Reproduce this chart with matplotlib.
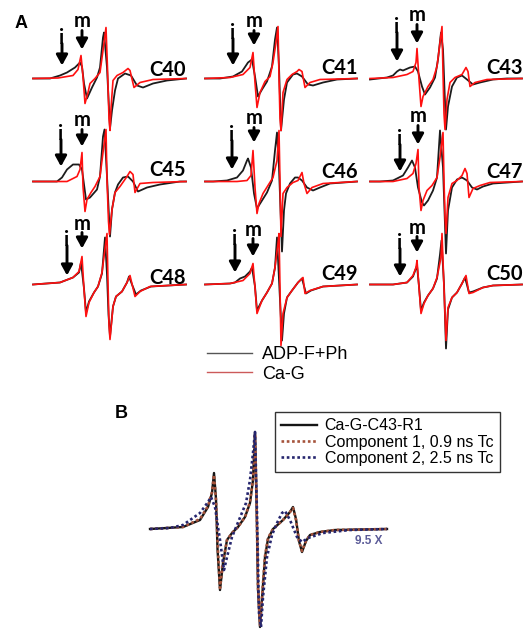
import matplotlib
matplotlib.use('Agg')
import matplotlib.pyplot as plt
from matplotlib.lines import Line2D

plt.rcParams['font.family'] = ['Liberation Sans', 'DejaVu Sans']

# ---------------- data (field offset, derivative amplitude; arbitrary units) ----------
labels = ["C40", "C41", "C43", "C45", "C46", "C47", "C48", "C49", "C50"]

c40_adp_x = [0, 17, 27, 34, 42, 47, 49, 51, 54, 59, 64, 67, 70, 71, 74, 77, 79, 82, 85, 92, 98, 104, 110, 120, 134, 153]
c40_adp_y = [0, 0, 3, 6, 11, 16, 12, -5, -20, -9, 1, 11, 41, 46, 11, -50, -32, -12, 0, 5, 3, -7, -9, -5, -2, 0]
c40_cag_x = [0, 25, 40, 45, 48, 50, 52, 55, 57, 62, 67, 70, 73, 74.5, 76, 77, 78, 80, 84, 90, 95, 97, 101, 107, 120, 153]
c40_cag_y = [0, 0.5, 3, 9, 23, 2, -25, -14, -5, 0, 6, 28, 51, 10, -40, -52, -30, -2, 3, 6, 10, 8, -9, -4, -1, 0]

c41_adp_x = [0, 15, 28, 37, 43, 47, 50, 53, 57, 62, 67, 70, 72, 74, 76, 79, 82, 88, 92, 97, 103, 108, 118, 132, 152]
c41_adp_y = [0, 0, 2, 7, 16, 19, 2, -18, -11, -3, 12, 39, 51, 12, -52, -21, -4, 4, 5, 2, -6, -7, -4, -1, 0]
c41_cag_x = [0, 25, 38, 45, 48, 50, 52, 55, 60, 65, 68, 71, 73, 74, 75, 76, 78, 82, 87, 92, 94, 97, 100, 105, 115, 152]
c41_cag_y = [0, 1, 4, 11, 26, -4, -29, -14, -3, 2, 16, 36, 52, 2, -40, -52, -14, -1, 4, 7, 9, 7, -9, -4, -1, 0]

c43_adp_x = [0, 17, 23, 27, 30, 33, 40, 45, 48, 52, 55, 60, 65, 68, 71, 73, 76, 78, 82, 87, 92, 97, 103, 110, 123, 137, 152]
c43_adp_y = [-1, 1, 3, 7, 9, 8, 11, 12, 7, -8, -16, -9, 1, 19, 46, 29, -51, -28, -8, 1, 3, -1, -6, -4, -1, 0, 0]
c43_cag_x = [0, 23, 37, 43, 46, 47, 49, 51, 53, 58, 63, 67, 70, 72, 73, 74, 75, 77, 80, 85, 92, 96, 98, 100, 105, 117, 152]
c43_cag_y = [0, 1, 4, 7, 16, 30, -1, -28, -18, -8, -1, 12, 36, 52, 6, -35, -51, -21, -4, 1, 4, 11, 7, -8, -4, -1, 0]

c45_adp_x = [0, 24, 29, 34, 40, 46, 49, 53, 57, 64, 67, 70, 71.5, 74, 77, 79, 82, 85, 90, 95, 100, 105, 114, 127, 147, 153]
c45_adp_y = [0, 0, 4, 12, 17, 17, 12, -18, -16, -8, 5, 45, 52, 5, -55, -28, -11, -3, 4, 5, 0, -10, -6, -3, 0, 0]
c45_cag_x = [0, 34, 44, 47, 49, 50, 52, 54, 58, 62, 67, 70, 73, 74, 75.5, 76.5, 79, 82, 87, 94, 97, 100, 102, 107, 120, 153]
c45_cag_y = [0, 0, 5, 12, 29, -5, -30, -18, -11, -5, 5, 29, 52, 2, -40, -53, -28, -11, -5, 5, 10, 7, -11, -2, -1, 0]

c46_adp_x = [0, 8, 22, 32, 38, 42, 43, 46, 49, 52, 57, 62, 67, 70, 72, 74, 77, 79, 81, 85, 90, 93, 97, 102, 108, 115, 125, 152]
c46_adp_y = [0, 0, 1, 4, 11, 21, 23, 14, -12, -27, -19, -11, 1, 31, 49, 14, -70, -29, -12, -2, 4, 4, 1, -6, -9, -6, -2, 0]
c46_cag_x = [0, 32, 42, 46, 48, 50, 52, 54, 58, 63, 68, 72, 74, 75, 76, 78, 82, 88, 93, 97, 99, 102, 107, 118, 152]
c46_cag_y = [0, 0, 1, 6, 31, -6, -32, -22, -12, -4, 4, 21, 51, 0, -55, -12, -6, -1, 1, 9, -2, -12, -6, -2, 0]

c47_adp_x = [0, 10, 23, 33, 38, 42, 45, 48, 52, 54, 58, 63, 67, 70, 73, 76, 78, 82, 87, 92, 97, 102, 107, 113, 123, 152]
c47_adp_y = [0, 0, 1, 6, 14, 21, 14, -6, -21, -24, -19, -9, 4, 51, 14, -72, -29, -6, 2, 4, 1, -6, -8, -5, -2, 0]
c47_cag_x = [0, 23, 37, 43, 46, 48, 49, 51, 53, 57, 62, 67, 70, 73, 74, 75, 76, 78, 82, 87, 92, 95, 97, 99, 103, 110, 120, 152]
c47_cag_y = [0, 0, 3, 8, 18, 32, -6, -29, -19, -9, -4, 4, 24, 49, 1, -35, -52, -16, -2, 1, 6, 13, 8, -16, -7, -4, -1, 0]

c48_adp_x = [0, 27, 40, 46, 48, 51, 53, 56, 61, 65, 69, 72, 74, 75.5, 77, 80, 83, 89, 94, 96, 99, 103, 108, 118, 153]
c48_adp_y = [0, 2, 7, 12, 22, -4, -28, -17, -8, -2, 11, 47, 10, -30, -52, -22, -12, -7, 2, 8, 0, -10, -6, -2, 0]
c48_cag_x = [0, 27, 40, 46, 49, 51, 53, 56, 61, 65, 69, 71, 74, 75, 76, 77, 80, 83, 89, 94, 97, 102, 107, 117, 153]
c48_cag_y = [0, 2, 7, 13, 28, -5, -32, -18, -8, -2, 12, 28, 51, 2, -40, -55, -22, -12, -7, 2, 9, -12, -7, -2, 0]

c49_adp_x = [0, 25, 30, 35, 40, 45, 47, 50, 52, 57, 62, 67, 70, 72, 74, 77, 79, 82, 87, 93, 97, 101, 106, 118, 152]
c49_adp_y = [0, 1, 2, 6, 8, 13, 17, -2, -26, -16, -8, 1, 17, 47, 5, -56, -29, -13, -6, 2, 6, -9, -6, -2, 0]
c49_cag_x = [0, 25, 38, 45, 48, 50, 52, 57, 62, 67, 70, 73, 74, 75, 76, 78, 82, 87, 93, 98, 100, 105, 118, 152]
c49_cag_y = [0, 1, 4, 11, 21, -3, -29, -16, -8, 1, 17, 41, 51, -3, -61, -29, -13, -6, 2, 7, -9, -6, -2, 0]

c50_adp_x = [0, 23, 37, 43, 47, 49, 51, 54, 58, 63, 67, 70, 71.5, 74, 76, 78, 82, 87, 92, 95, 99, 103, 113, 123, 152]
c50_adp_y = [0, 0, 2, 8, 19, -2, -26, -18, -11, -4, 6, 30, 44, 0, -64, -25, -13, -8, 1, 7, -8, -7, -3, -1, 0]
c50_cag_x = [0, 23, 37, 43, 46, 47, 49, 51, 54, 58, 63, 67, 71, 72, 74, 76, 78, 82, 87, 92, 96, 99, 103, 113, 123, 152]
c50_cag_y = [0, 0, 2, 9, 17, 24, -3, -29, -19, -11, -4, 7, 27, 51, -3, -56, -23, -13, -8, 1, 9, -9, -8, -3, -1, 0]

# Panel B: Ca-G-C43-R1 and its two simulated components (scaled 9.5 X)
b_exp_x = [0, 33, 50, 58, 62, 64, 66, 67.5, 70, 73, 77, 82, 88, 95, 100, 103, 105, 106.5, 108, 110, 112, 115, 118, 123, 133, 140, 143, 146, 149, 152, 156, 160, 170, 185, 237]
b_exp_y = [0, 2, 9, 22, 36, 56, 30, -20, -61, -34, -11, -4, 2, 12, 26, 49, 97, 30, -60, -98, -70, -28, -10, 0, 9, 17, 22, 10, -12, -23, -12, -6, -3, -1, 0]
b_comp1_x = [0, 33, 50, 58, 62, 64, 66, 68, 70, 73, 77, 82, 88, 95, 100, 103, 105, 106.5, 108, 110, 112, 115, 118, 123, 133, 140, 143, 146, 149, 152, 156, 160, 170, 185, 237]
b_comp1_y = [0, 2, 10, 23, 37, 54, 28, -22, -59, -33, -11, -4, 2, 12, 27, 50, 95, 28, -58, -96, -68, -27, -9, 0, 9, 17, 21, 9, -12, -22, -12, -6, -3, -1, 0]
b_comp2_x = [0, 20, 33, 50, 58, 61, 65, 70, 74, 77, 82, 89, 96, 100, 103, 105, 107, 109, 111, 113, 117, 122, 127, 132, 135, 140, 147, 152, 158, 173, 200, 237]
b_comp2_y = [0, 1, 4, 16, 27, 32, 22, -11, -41, -28, -8, 9, 26, 49, 76, 97, 16, -84, -98, -68, -28, -6, 6, 16, 18, 9, -8, -13, -9, -4, -1, 0]

legend_a = ["ADP-F+Ph", "Ca-G"]
legend_b = ["Ca-G-C43-R1", "Component 1, 0.9 ns Tc", "Component 2, 2.5 ns Tc"]
scale_text = "9.5 X"

adp_traces = [(c40_adp_x, c40_adp_y), (c41_adp_x, c41_adp_y), (c43_adp_x, c43_adp_y),
              (c45_adp_x, c45_adp_y), (c46_adp_x, c46_adp_y), (c47_adp_x, c47_adp_y),
              (c48_adp_x, c48_adp_y), (c49_adp_x, c49_adp_y), (c50_adp_x, c50_adp_y)]
cag_traces = [(c40_cag_x, c40_cag_y), (c41_cag_x, c41_cag_y), (c43_cag_x, c43_cag_y),
              (c45_cag_x, c45_cag_y), (c46_cag_x, c46_cag_y), (c47_cag_x, c47_cag_y),
              (c48_cag_x, c48_cag_y), (c49_cag_x, c49_cag_y), (c50_cag_x, c50_cag_y)]

# ---------------- layout ----------------
W, H = 528, 629
fig = plt.figure(figsize=(W / 100, H / 100), dpi=100)

col_left = [33, 205, 370]
row_base = [78.5, 181.5, 284.5]
# (i x, i label centre, i tip, m x, m label centre, m tip, label height)
arrows = [
    (29, 41, 12, 49, 56, 28, 8),
    (28, 46, 12, 49, 56, 32, 10),
    (27, 52, 16, 47, 62, 34, 10),
    (28, 48, 14, 49, 60, 34, 11),
    (27, 47, 11, 49, 62, 38, 10),
    (30, 43, 9, 48, 64, 36, 10),
    (34, 45, 8, 49, 60, 35, 6),
    (30, 46, 11, 48, 54, 27, 11),
    (30, 42, 7, 47, 56, 31, 10),
]

BLACK = '#1c1c1c'
RED = '#ff1010'
lab_font = dict(family=['Lato', 'DejaVu Sans'], fontweight='bold', fontsize=14.5, color='black')
arrow_style = dict(arrowstyle='-|>,head_length=0.62,head_width=0.34', lw=2.1, color='black',
                   shrinkA=0, shrinkB=0, mutation_scale=10)

for k, name in enumerate(labels):
    r, c = divmod(k, 3)
    L, B = col_left[c], row_base[r]
    w, below, above = 153, 80, 80
    ax = fig.add_axes([L / W, 1 - (B + below) / H, w / W, (below + above) / H])
    ax.set_xlim(0, w)
    ax.set_ylim(-below, above)
    ax.axis('off')
    ax.patch.set_alpha(0)
    ax.plot(*adp_traces[k], color=BLACK, lw=1.3, clip_on=False, solid_joinstyle='round')
    ax.plot(*cag_traces[k], color=RED, lw=1.2, clip_on=False, solid_joinstyle='round')
    ix, ic, it, mx, mc, mt, lh = arrows[k]
    ax.text(ix, ic - 6.5, 'i', ha='center', va='baseline', **lab_font)
    ax.annotate('', xy=(ix, it + 1), xytext=(ix, ic - 6), arrowprops=arrow_style, annotation_clip=False)
    ax.text(mx, mc - 5, 'm', ha='center', va='baseline', **lab_font)
    ax.annotate('', xy=(mx, mt + 1), xytext=(mx, mc - 8), arrowprops=arrow_style, annotation_clip=False)
    ax.text(116, lh, name, ha='left', va='center', **lab_font)

fig.text(21 / W, 1 - 23 / H, 'A', ha='center', va='center', fontsize=13, fontweight='bold')
fig.text(121 / W, 1 - 413 / H, 'B', ha='center', va='center', fontsize=13, fontweight='bold')

handles_a = [Line2D([], [], color='#555555', lw=1.0), Line2D([], [], color='#cc5a5a', lw=1.0)]
fig.legend(handles_a, legend_a, loc='upper left', bbox_to_anchor=(207 / W, 1 - 346 / H),
           frameon=False, fontsize=13, handlelength=2.5, handletextpad=0.55,
           labelspacing=0.15, borderpad=0, borderaxespad=0)

# Panel B
axb = fig.add_axes([150 / W, 0, 237 / W, 200 / H])
axb.set_xlim(0, 237)
axb.set_ylim(-100, 100)
axb.axis('off')
axb.patch.set_alpha(0)
l0, = axb.plot(b_exp_x, b_exp_y, color='#151515', lw=1.7, clip_on=False)
l1, = axb.plot(b_comp1_x, b_comp1_y, color='#a5533b', lw=1.9, ls=(0, (1, 1)), clip_on=False)
l2, = axb.plot(b_comp2_x, b_comp2_y, color='#25256e', lw=1.9, ls=(0, (1, 1)), clip_on=False)
axb.text(205, -12, scale_text, ha='left', va='center', fontsize=8.5, fontweight='bold', color='#5b5b98')

leg = axb.legend([l0, l1, l2], legend_b, loc='upper left', bbox_to_anchor=(275 / W, 1 - 412 / H),
                 bbox_transform=fig.transFigure, fontsize=11.5, handlelength=2.2, handletextpad=0.5,
                 labelspacing=0.08, borderpad=0.4, borderaxespad=0, fancybox=False, framealpha=1,
                 edgecolor='#333333')
leg.get_frame().set_linewidth(1.0)

fig.savefig('out.png', dpi=100)
